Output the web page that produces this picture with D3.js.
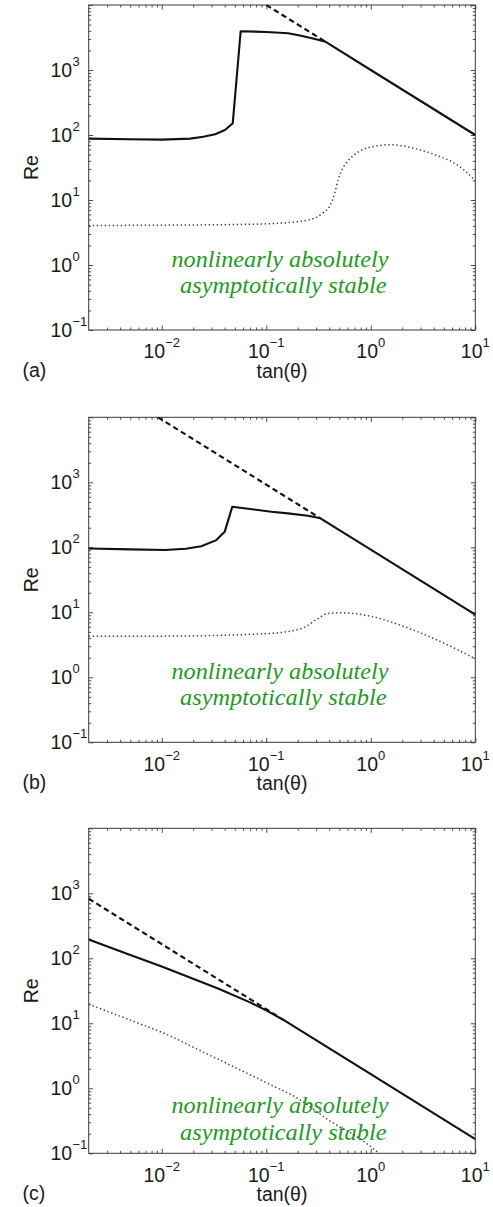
<!DOCTYPE html>
<html>
<head>
<meta charset="utf-8">
<script src="https://cdn.jsdelivr.net/npm/d3@7"></script>
<style>
  html, body { margin: 0; padding: 0; background: #fff; }
  svg { display: block; }
</style>
</head>
<body>
<script>
// ---- tick labels ----
const xTickValues = [1e-2, 1e-1, 1e0, 1e1];
const xTickExponents = ["\u22122", "\u22121", "0", "1"];
const yTickValues = [1e-1, 1e0, 1e1, 1e2, 1e3];
const yTickExponents = ["\u22121", "0", "1", "2", "3"];
const panelLabels = ["(a)", "(b)", "(c)"];
const regionText = ["nonlinearly absolutely", "asymptotically stable"];

// ---- panel (a) ----
const aSolidX = [0.002, 0.005, 0.01, 0.0187, 0.025, 0.0324, 0.0403, 0.0478, 0.0569, 0.1, 0.162, 0.21, 0.28, 0.364, 1, 10];
const aSolidY = [88, 86, 85, 88, 94, 103, 119, 152, 3950, 3850, 3680, 3390, 3050, 2750, 1000, 100];
const aDashX = [0.1, 0.364];
const aDashY = [10000, 2750];
const aDotX = [0.002, 0.01, 0.05, 0.1, 0.21, 0.3, 0.351, 0.406, 0.454, 0.488, 0.53, 0.587, 0.7, 0.848, 1.1, 1.5, 2.2, 3.19, 4.5, 6.17, 8, 10];
const aDotY = [4.05, 4.1, 4.2, 4.3, 4.7, 5.4, 6.4, 8.1, 13, 20.8, 29, 37.7, 50, 60.4, 67, 71, 66, 57, 47, 37.7, 28, 19.6];

// ---- panel (b) ----
const bSolidX = [0.002, 0.005, 0.0107, 0.017, 0.0239, 0.0333, 0.04, 0.0473, 0.112, 0.161, 0.25, 0.33, 1, 10];
const bSolidY = [96, 93, 91, 95, 104, 129, 173, 421, 352, 333, 305, 279, 92, 9.2];
const bDashX = [0.0092, 0.33];
const bDashY = [10000, 279];
const bDotX = [0.002, 0.01, 0.1, 0.216, 0.312, 0.389, 0.521, 1, 2.1, 4.38, 10];
const bDotY = [4.3, 4.3, 4.7, 5.6, 8.0, 9.6, 9.8, 8.7, 6.0, 3.7, 1.93];

// ---- panel (c) ----
const cSolidX = [0.002, 0.005, 0.01, 0.035, 0.07, 0.1, 0.15, 1, 10];
const cSolidY = [195, 112, 75, 34, 21, 15.8, 11.0, 1.65, 0.165];
const cDashX = [0.002, 0.15];
const cDashY = [825, 11.0];
const cDotX = [0.002, 0.005, 0.011, 0.025, 0.0594, 0.1, 0.2, 0.406, 0.845, 1.3];
const cDotY = [19.6, 11.2, 6.8, 3.6, 1.84, 1.22, 0.7, 0.315, 0.155, 0.09];

const panels = [
  { solid: [aSolidX, aSolidY], dash: [aDashX, aDashY], dot: [aDotX, aDotY], textDy: 0 },
  { solid: [bSolidX, bSolidY], dash: [bDashX, bDashY], dot: [bDotX, bDotY], textDy: 0 },
  { solid: [cSolidX, cSolidY], dash: [cDashX, cDashY], dot: [cDotX, cDotY], textDy: 23.5 }
];

const W = 493, H = 1207;
const left = 88.7, right = 475.3;
const tops = [5, 417.3, 828.3];
const plotH = 325;
const sans = "'Liberation Sans', Arial, Helvetica, sans-serif";
const ink = "#1a1a1a";
const axisColor = "#3a3a3a";

const svg = d3.select("body").append("svg")
  .attr("width", W).attr("height", H);

const x = d3.scaleLog().domain([0.002, 10]).range([left, right]);

function minorTicks(lo, hi) {
  const out = [];
  for (let e = Math.floor(Math.log10(lo)); e <= Math.ceil(Math.log10(hi)); e++) {
    for (let m = 2; m <= 9; m++) {
      const v = m * Math.pow(10, e);
      if (v > lo * 1.0001 && v < hi * 0.9999) out.push(v);
    }
  }
  return out;
}
const xMinor = minorTicks(0.002, 10);
const yMinor = minorTicks(0.1, 1e4);

panels.forEach((p, i) => {
  const top = tops[i];
  const bottom = top + plotH;
  const y = d3.scaleLog().domain([0.1, 1e4]).range([bottom, top]);
  const g = svg.append("g");

  const clipId = "clip" + i;
  g.append("clipPath").attr("id", clipId)
    .append("rect").attr("x", left).attr("y", top)
    .attr("width", right - left).attr("height", plotH);

  // inward ticks on all four sides
  const majorLen = 4.5, minorLen = 2.5;
  const axes = [
    [d3.axisBottom(x), bottom, xTickValues, xMinor, "x"],
    [d3.axisTop(x), top, xTickValues, xMinor, "x"],
    [d3.axisLeft(y), left, yTickValues.concat([1e4]), yMinor, "y"],
    [d3.axisRight(y), right, yTickValues.concat([1e4]), yMinor, "y"]
  ];
  axes.forEach(([ax, pos, majors, minors, dir]) => {
    [[majors, majorLen], [minors, minorLen]].forEach(([vals, len]) => {
      const a = g.append("g")
        .attr("transform", dir === "x" ? `translate(0,${pos})` : `translate(${pos},0)`)
        .call(ax.tickValues(vals).tickSize(-len).tickSizeOuter(0).tickFormat(""));
      a.select(".domain").remove();
      a.selectAll("line").attr("stroke", axisColor).attr("stroke-width", 0.9);
    });
  });

  // frame
  g.append("rect")
    .attr("x", left).attr("y", top)
    .attr("width", right - left).attr("height", plotH)
    .attr("fill", "none").attr("stroke", axisColor).attr("stroke-width", 1);

  // x tick labels
  xTickValues.forEach((v, k) => {
    const t = g.append("text")
      .attr("x", x(v)).attr("y", bottom + 28.3)
      .attr("text-anchor", "middle")
      .attr("font-family", sans).attr("font-size", 19.5).attr("fill", ink);
    t.append("tspan").text("10");
    t.append("tspan").attr("dy", -11).attr("font-size", 13).text(xTickExponents[k]);
  });

  // y tick labels
  yTickValues.forEach((v, k) => {
    const yy = y(v) + 6.6;
    g.append("text")
      .attr("x", left - 16.5).attr("y", yy)
      .attr("text-anchor", "end")
      .attr("font-family", sans).attr("font-size", 19.5).attr("fill", ink)
      .text("10");
    g.append("text")
      .attr("x", left - 16.2).attr("y", yy - 11)
      .attr("text-anchor", "start")
      .attr("font-family", sans).attr("font-size", 13).attr("fill", ink)
      .text(yTickExponents[k]);
  });

  // axis titles and panel tag
  g.append("text")
    .attr("x", (left + right) / 2).attr("y", bottom + 47.5)
    .attr("text-anchor", "middle")
    .attr("font-family", sans).attr("font-size", 19.5).attr("fill", ink)
    .text("tan(\u03b8)");
  g.append("text")
    .attr("transform", `translate(38.3,${top + plotH / 2}) rotate(-90)`)
    .attr("text-anchor", "middle")
    .attr("font-family", sans).attr("font-size", 19.5).attr("fill", ink)
    .text("Re");
  g.append("text")
    .attr("x", 22.5).attr("y", bottom + 47)
    .attr("font-family", sans).attr("font-size", 19.5).attr("fill", ink)
    .text(panelLabels[i]);

  // region annotation
  const serif = "'Liberation Serif', 'Times New Roman', serif";
  g.append("text")
    .attr("x", 171.5).attr("y", top + 261.5 + p.textDy)
    .attr("font-family", serif).attr("font-style", "italic").attr("font-size", 22.5)
    .attr("fill", "#1f9a1f")
    .attr("textLength", 217).attr("lengthAdjust", "spacingAndGlyphs")
    .text(regionText[0]);
  g.append("text")
    .attr("x", 180).attr("y", top + 288 + p.textDy)
    .attr("font-family", serif).attr("font-style", "italic").attr("font-size", 22.5)
    .attr("fill", "#1f9a1f")
    .attr("textLength", 206.5).attr("lengthAdjust", "spacingAndGlyphs")
    .text(regionText[1]);

  // curves
  const pts = ([xs, ys]) => xs.map((v, k) => [v, ys[k]]);
  const linear = d3.line().x(d => x(d[0])).y(d => y(d[1]));
  const smooth = d3.line().x(d => x(d[0])).y(d => y(d[1])).curve(d3.curveMonotoneX);
  const curves = g.append("g").attr("clip-path", `url(#${clipId})`);

  curves.append("path").datum(pts(p.dot))
    .attr("d", smooth)
    .attr("fill", "none").attr("stroke", "#444")
    .attr("stroke-width", 1.5).attr("stroke-dasharray", "1.4,2.6");

  curves.append("path").datum(pts(p.dash))
    .attr("d", linear)
    .attr("fill", "none").attr("stroke", "#111")
    .attr("stroke-width", 2.1).attr("stroke-dasharray", "5.5,3.5");

  curves.append("path").datum(pts(p.solid))
    .attr("d", linear)
    .attr("fill", "none").attr("stroke", "#111")
    .attr("stroke-width", 2.1).attr("stroke-linejoin", "round");
});
</script>
</body>
</html>
